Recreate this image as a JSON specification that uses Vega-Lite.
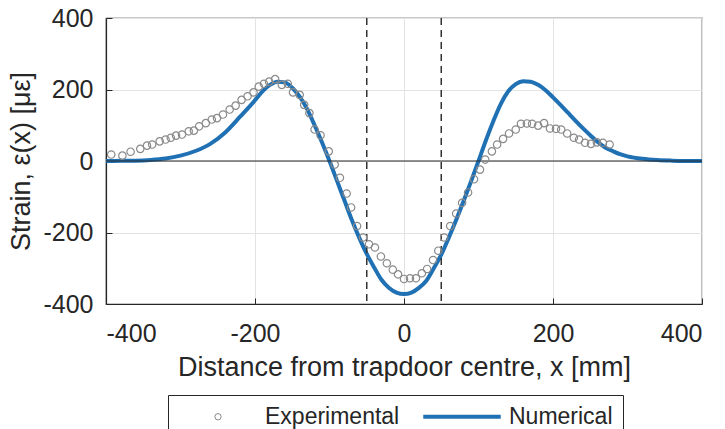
{
  "$schema": "https://vega.github.io/schema/vega-lite/v6.json",
  "width": 596,
  "height": 286,
  "autosize": {"type": "none"},
  "padding": {"left": 106, "top": 18, "right": 23, "bottom": 125},
  "background": "white",
  "config": {
    "font": "Liberation Sans",
    "view": {"stroke": "#262626", "strokeWidth": 1.2},
    "axis": {
      "labelFont": "Liberation Sans",
      "titleFont": "Liberation Sans",
      "labelFontSize": 25,
      "titleFontSize": 27,
      "titleFontWeight": "normal",
      "labelColor": "#262626",
      "titleColor": "#262626",
      "domainColor": "#262626",
      "tickColor": "#262626",
      "gridColor": "#e3e3e3",
      "gridWidth": 1,
      "tickSize": -6,
      "domainWidth": 1.2,
      "labelExpr": "replace(datum.label, '−', '-')"
    },
    "legend": {"labelFont": "Liberation Sans", "labelFontSize": 23, "labelColor": "#262626"}
  },
  "datasets": {
    "experimental": [
      {"x": -393, "y": 18}, {"x": -378, "y": 15}, {"x": -367, "y": 26}, {"x": -354, "y": 34},
      {"x": -345, "y": 43}, {"x": -338, "y": 46}, {"x": -328, "y": 55}, {"x": -320, "y": 60},
      {"x": -313, "y": 65}, {"x": -306, "y": 71}, {"x": -298, "y": 74}, {"x": -289, "y": 83},
      {"x": -282, "y": 85}, {"x": -275, "y": 97}, {"x": -266, "y": 106}, {"x": -258, "y": 116},
      {"x": -251, "y": 120}, {"x": -243, "y": 130}, {"x": -234, "y": 144}, {"x": -226, "y": 155},
      {"x": -218, "y": 171}, {"x": -210, "y": 181}, {"x": -202, "y": 192}, {"x": -195, "y": 208},
      {"x": -188, "y": 216}, {"x": -181, "y": 222}, {"x": -173, "y": 229}, {"x": -164, "y": 213},
      {"x": -156, "y": 216}, {"x": -149, "y": 192}, {"x": -140, "y": 185}, {"x": -134, "y": 157},
      {"x": -127, "y": 134}, {"x": -120, "y": 88}, {"x": -112, "y": 72}, {"x": -101, "y": 27},
      {"x": -93, "y": -10}, {"x": -86, "y": -47}, {"x": -77, "y": -91}, {"x": -71, "y": -130},
      {"x": -63, "y": -182}, {"x": -55, "y": -214}, {"x": -47, "y": -233}, {"x": -39, "y": -242},
      {"x": -31, "y": -267}, {"x": -23, "y": -286}, {"x": -15, "y": -304}, {"x": -8, "y": -317},
      {"x": 0, "y": -330}, {"x": 8, "y": -328}, {"x": 16, "y": -328}, {"x": 24, "y": -314},
      {"x": 31, "y": -302}, {"x": 39, "y": -277}, {"x": 46, "y": -251}, {"x": 54, "y": -214},
      {"x": 62, "y": -182}, {"x": 70, "y": -147}, {"x": 78, "y": -117}, {"x": 86, "y": -88},
      {"x": 94, "y": -51}, {"x": 102, "y": -24}, {"x": 109, "y": 4}, {"x": 118, "y": 27},
      {"x": 125, "y": 46}, {"x": 133, "y": 62}, {"x": 141, "y": 77}, {"x": 150, "y": 88},
      {"x": 157, "y": 104}, {"x": 165, "y": 105}, {"x": 172, "y": 104}, {"x": 180, "y": 99},
      {"x": 188, "y": 106}, {"x": 196, "y": 91}, {"x": 204, "y": 90}, {"x": 211, "y": 88},
      {"x": 219, "y": 77}, {"x": 228, "y": 65}, {"x": 235, "y": 60}, {"x": 243, "y": 51},
      {"x": 251, "y": 48}, {"x": 259, "y": 52}, {"x": 267, "y": 51}, {"x": 276, "y": 46}
    ],
    "numerical": [
      {"x": -400, "y": 0}, {"x": -380, "y": 0.5}, {"x": -360, "y": 1}, {"x": -340, "y": 3},
      {"x": -320, "y": 7}, {"x": -300, "y": 15}, {"x": -280, "y": 28}, {"x": -260, "y": 48},
      {"x": -240, "y": 80}, {"x": -220, "y": 124}, {"x": -200, "y": 170}, {"x": -190, "y": 195},
      {"x": -180, "y": 213}, {"x": -170, "y": 222}, {"x": -160, "y": 220}, {"x": -150, "y": 205},
      {"x": -140, "y": 180}, {"x": -130, "y": 145}, {"x": -120, "y": 100}, {"x": -110, "y": 52},
      {"x": -100, "y": 0}, {"x": -90, "y": -55}, {"x": -80, "y": -110}, {"x": -70, "y": -165},
      {"x": -60, "y": -215}, {"x": -50, "y": -260}, {"x": -40, "y": -298}, {"x": -30, "y": -333},
      {"x": -20, "y": -355}, {"x": -10, "y": -368}, {"x": 0, "y": -372}, {"x": 10, "y": -368},
      {"x": 20, "y": -355}, {"x": 30, "y": -335}, {"x": 40, "y": -300}, {"x": 50, "y": -262},
      {"x": 60, "y": -215}, {"x": 70, "y": -165}, {"x": 80, "y": -112}, {"x": 90, "y": -57},
      {"x": 100, "y": 0}, {"x": 110, "y": 58}, {"x": 120, "y": 112}, {"x": 130, "y": 160},
      {"x": 140, "y": 195}, {"x": 150, "y": 215}, {"x": 160, "y": 223}, {"x": 170, "y": 222},
      {"x": 180, "y": 213}, {"x": 190, "y": 198}, {"x": 200, "y": 178}, {"x": 210, "y": 157},
      {"x": 220, "y": 135}, {"x": 230, "y": 113}, {"x": 240, "y": 92}, {"x": 250, "y": 72},
      {"x": 260, "y": 53}, {"x": 270, "y": 38}, {"x": 280, "y": 28}, {"x": 290, "y": 19},
      {"x": 300, "y": 13}, {"x": 320, "y": 6}, {"x": 340, "y": 2.5}, {"x": 360, "y": 1},
      {"x": 380, "y": 0.3}, {"x": 400, "y": 0}
    ],
    "trapdoor": [{"x": -50}, {"x": 50}],
    "zero": [{"y": 0}]
  },
  "layer": [
    {
      "data": {"name": "numerical"},
      "transform": [{"calculate": "'Numerical'", "as": "series"}],
      "mark": {"type": "line", "strokeWidth": 4, "interpolate": "monotone", "clip": true},
      "encoding": {
        "x": {
          "field": "x", "type": "quantitative",
          "scale": {"domain": [-400, 400], "nice": false},
          "axis": {
            "values": [-400, -200, 0, 200, 400],
            "title": "Distance from trapdoor centre, x [mm]",
            "labelPadding": 23,
            "titlePadding": 8,
            "grid": true
          }
        },
        "y": {
          "field": "y", "type": "quantitative",
          "scale": {"domain": [-400, 400], "nice": false},
          "axis": {
            "values": [-400, -200, 0, 200, 400],
            "title": "Strain, ε(x) [με]",
            "labelPadding": 19,
            "titlePadding": 7,
            "grid": true
          }
        },
        "color": {
          "field": "series", "type": "nominal",
          "scale": {"domain": ["Experimental", "Numerical"], "range": ["#8a8a8a", "#2070b4"]},
          "legend": {
            "title": null,
            "orient": "none",
            "legendX": 62,
            "legendY": 377,
            "direction": "horizontal",
            "strokeColor": "#262626",
            "fillColor": "white",
            "padding": 10,
            "columnPadding": 15,
            "labelOffset": 64,
            "symbolStrokeWidth": 1,
            "encode": {
              "symbols": {
                "update": {
                  "x": {"value": 40},
                  "size": {"signal": "datum.value === 'Experimental' ? 40 : 6000"},
                  "strokeWidth": {"signal": "datum.value === 'Experimental' ? 1 : 4"}
                }
              }
            }
          }
        }
      }
    },
    {
      "data": {"name": "zero"},
      "mark": {"type": "rule", "color": "#262626", "strokeWidth": 1.2},
      "encoding": {"y": {"field": "y", "type": "quantitative"}}
    },
    {
      "data": {"name": "trapdoor"},
      "mark": {"type": "rule", "color": "#333333", "strokeWidth": 1.5, "strokeDash": [7, 5]},
      "encoding": {"x": {"field": "x", "type": "quantitative"}}
    },
    {
      "data": {"name": "experimental"},
      "transform": [{"calculate": "'Experimental'", "as": "series"}],
      "mark": {"type": "point", "filled": false, "size": 55, "strokeWidth": 1.2, "opacity": 1},
      "encoding": {
        "x": {"field": "x", "type": "quantitative"},
        "y": {"field": "y", "type": "quantitative"},
        "color": {"field": "series", "type": "nominal"},
        "shape": {
          "field": "series", "type": "nominal",
          "scale": {"domain": ["Experimental", "Numerical"], "range": ["circle", "stroke"]}
        }
      }
    }
  ]
}
